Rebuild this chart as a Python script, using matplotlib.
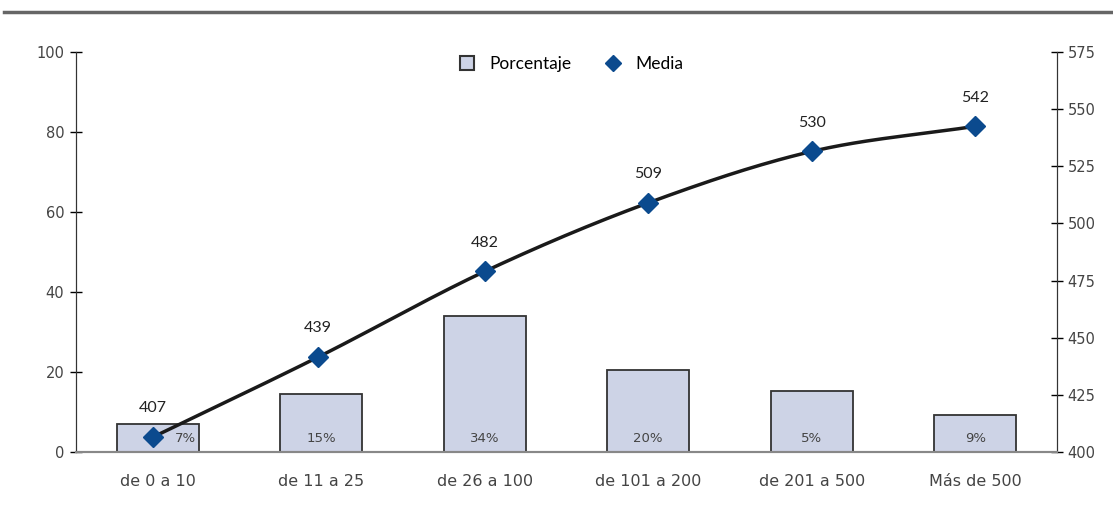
import matplotlib
matplotlib.use("Agg")
import matplotlib.pyplot as plt
import numpy as np
from matplotlib.lines import Line2D

categories = ["de 0 a 10", "de 11 a 25", "de 26 a 100", "de 101 a 200", "de 201 a 500", "Más de 500"]
porcentaje = [7, 14.6, 34, 20.6, 15.3, 9.3]
porcentaje_labels = ["7%", "15%", "34%", "20%", "5%", "9%"]
media = [406.5, 441.5, 479, 509, 531.5, 542.5]
media_labels = ["407", "439", "482", "509", "530", "542"]

plt.rcParams['font.family'] = ['Lato', 'DejaVu Sans']

fig = plt.figure(figsize=(11.13, 5.19), dpi=100)
ax = fig.add_axes([76/1113, 1-452/519, 981/1113, 400/519])
ax2 = ax.twinx()

x = np.arange(len(categories))
bar_color = "#CDD3E6"
edge = "#333333"
blue = "#0B4A8E"

ax.bar(x, porcentaje, width=0.5, color=bar_color, edgecolor=edge, linewidth=1.3, zorder=2)
ax.set_xlim(-0.5, len(categories) - 0.5)
ax.set_ylim(0, 100)
ax.set_yticks(range(0, 101, 20))
ax2.set_ylim(400, 575)
ax2.set_yticks(range(400, 576, 25))

for i, (v, lab) in enumerate(zip(porcentaje, porcentaje_labels)):
    dx = 0.17 if i == 0 else 0
    ax.text(i + dx, 3.5, lab, ha="center", va="center", fontsize=9.5, color="#444444", zorder=3,
            family="DejaVu Sans")

# smooth (Catmull-Rom) rendering through the media points
def catmull(xs, ys, n=40):
    px = np.concatenate([[2*xs[0]-xs[1]], xs, [2*xs[-1]-xs[-2]]])
    py = np.concatenate([[2*ys[0]-ys[1]], ys, [2*ys[-1]-ys[-2]]])
    ox, oy = [], []
    for k in range(1, len(px)-2):
        t = np.linspace(0, 1, n)
        for arr, out in ((px, ox), (py, oy)):
            p0, p1, p2, p3 = arr[k-1], arr[k], arr[k+1], arr[k+2]
            out.extend(0.5*((2*p1) + (-p0+p2)*t + (2*p0-5*p1+4*p2-p3)*t**2 + (-p0+3*p1-3*p2+p3)*t**3))
    return np.array(ox), np.array(oy)

mx = x - np.array([0.03, 0.02, 0, 0, 0, 0])
sx, sy = catmull(mx.astype(float), np.array(media, float))
ax2.plot(sx, sy, color="#1a1a1a", linewidth=2.5, zorder=3)
ax2.plot(mx, media, linestyle="none", marker="D", markersize=10, color=blue, zorder=4)
for xi, v, lab in zip(mx, media, media_labels):
    ax2.text(xi, v + 9.5, lab, ha="center", va="bottom", fontsize=11.5, color="#222222")

ax.set_xticks(x)
ax.set_xticklabels(categories, fontsize=11.5, color="#444444", family="DejaVu Sans")
ax.tick_params(axis="x", length=0, pad=16)
ax.tick_params(axis="y", direction="inout", length=9, width=1, labelsize=10.5, labelcolor="#444444", pad=4)
ax2.tick_params(axis="y", direction="inout", length=9, width=1, labelsize=10.5, labelcolor="#444444", pad=3)
for a in (ax, ax2):
    for t in a.get_yticklabels():
        t.set_family("DejaVu Sans")

for a in (ax, ax2):
    a.spines["top"].set_visible(False)
    a.spines["left"].set_color("#333333")
    a.spines["right"].set_color("#333333")
    a.spines["bottom"].set_color("#888888")
    a.spines["bottom"].set_linewidth(1.5)

handles = [
    Line2D([], [], linestyle="none", marker="s", markersize=10, markerfacecolor=bar_color, markeredgecolor=edge, markeredgewidth=1.5),
    Line2D([], [], linestyle="none", marker="D", markersize=8, color=blue),
]
ax2.legend(handles, ["Porcentaje", "Media"], loc="center", bbox_to_anchor=(0.5, 1-12/400), ncol=2,
           frameon=False, fontsize=12.5, handletextpad=0.3, columnspacing=1.4, borderpad=0)

fig.add_artist(Line2D([4/1113, 1], [1-12/519, 1-12/519], color="#666666", linewidth=2.5))

fig.savefig("out.png", dpi=100)
